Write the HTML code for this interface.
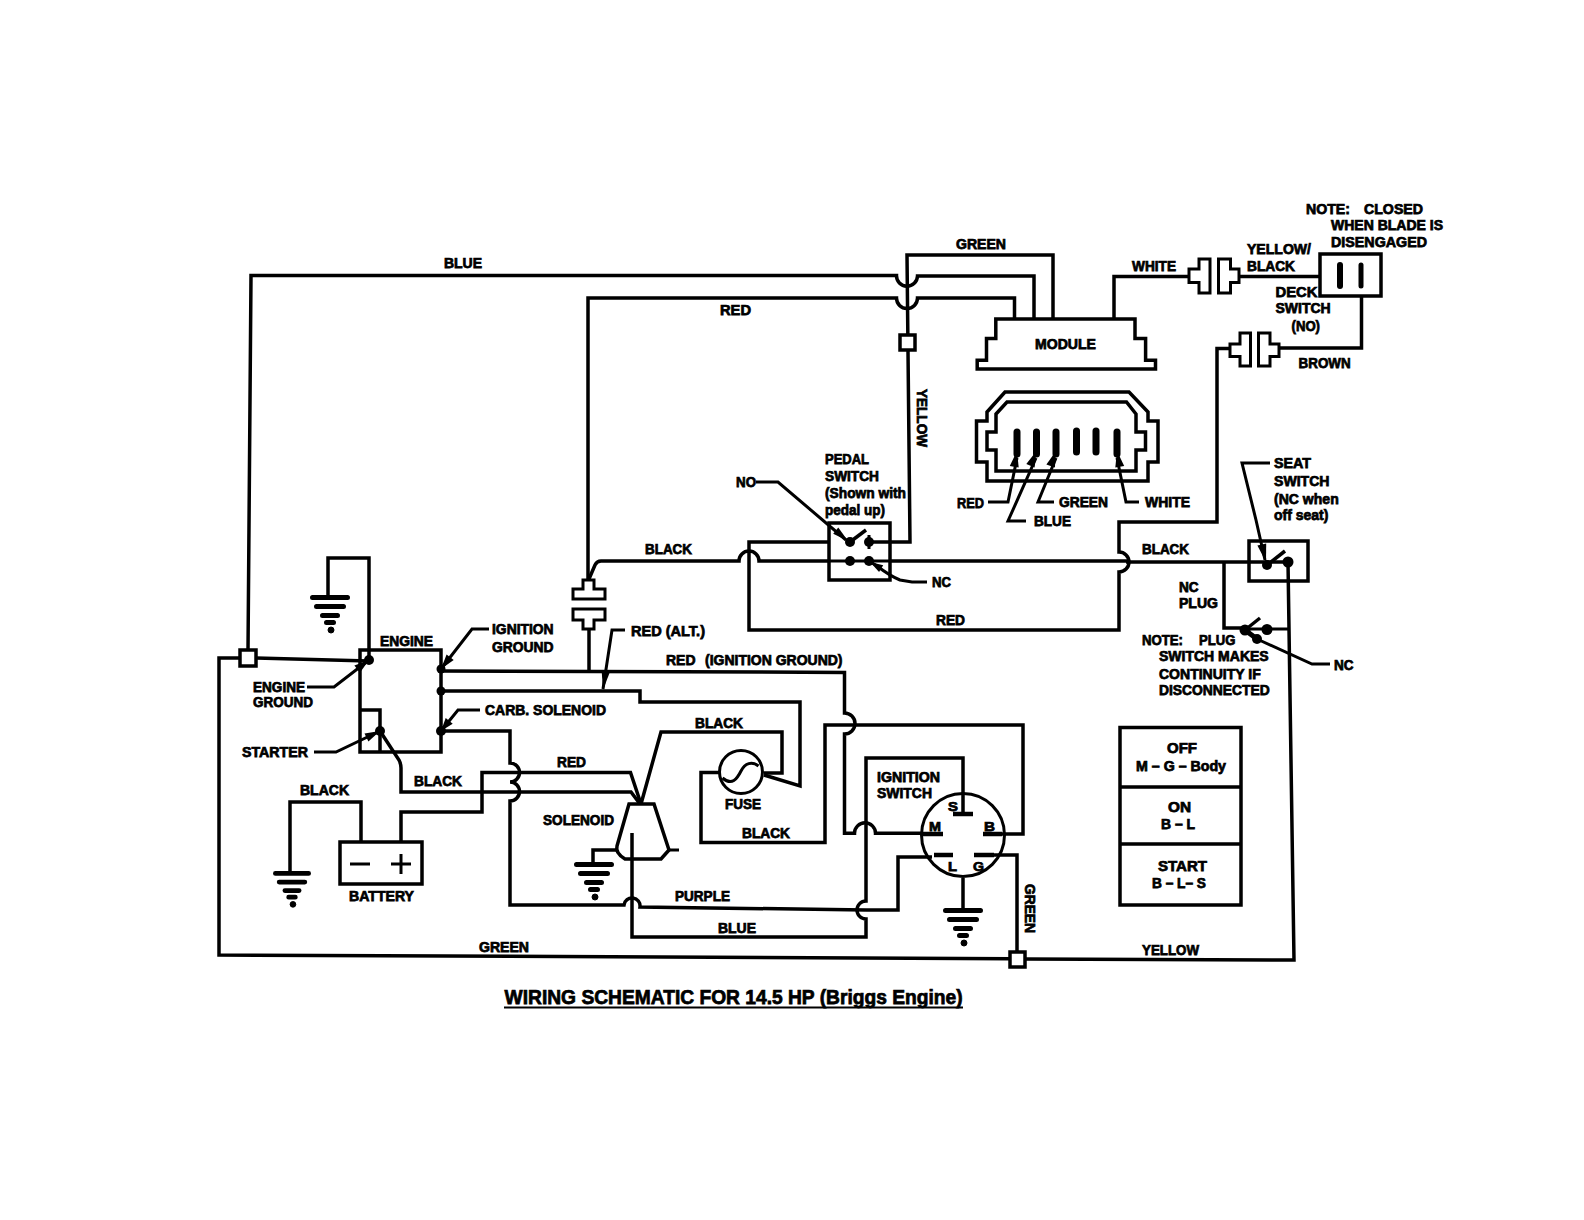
<!DOCTYPE html>
<html><head><meta charset="utf-8">
<style>
html,body{margin:0;padding:0;background:#fff;width:1584px;height:1220px;overflow:hidden}
svg{display:block}
text{font-family:"Liberation Sans",sans-serif;font-weight:bold;fill:#000;stroke:#000;stroke-width:0.75px}
</style></head><body>
<svg width="1584" height="1220" viewBox="0 0 1584 1220">
<defs>
<g id="gnd">
<path d="M-17.5,0.5H17.5M-13.5,9.5H13.5M-7.5,18.5H7.5M-3.5,25.5H3.5" stroke="#000" stroke-width="5" stroke-linecap="round" fill="none"/>
<circle cx="1" cy="33" r="3" fill="#000"/>
</g>
</defs>
<rect width="1584" height="1220" fill="#fff"/>
<g stroke="#000" fill="none" stroke-linejoin="miter">
<path d="M248,651L251,275.5H896.5A10.5,10.5 0 0 0 917.5,276H1034V319" stroke-width="3.5" />
<path d="M890,542H910L907,255H1053V319" stroke-width="3.5" />
<path d="M588,580V298H896.5A10.5,10.5 0 0 0 917.5,298H1014.5V319" stroke-width="3.5" />
<rect x="900" y="335" width="15" height="15" stroke-width="3.5" fill="#fff"/>
<path d="M995.8,319H1135V338.4H1145.6V360.3H1155.5V369H977.2V360.3H986.5V338.4H995.8Z" stroke-width="3.5" />
<path d="M1005,392H1129L1148,412V421H1158V462H1148V481H987V462H976.5V421H987V412Z" stroke-width="3.5" />
<path d="M1007,402H1126.5L1136,414V432H1145.5V450H1136V471H996V450H987V432H996V414Z" stroke-width="3.5" />
<path d="M1076.5,431V452" stroke-width="7" stroke-linecap="round"/>
<path d="M1096,431V452" stroke-width="7" stroke-linecap="round"/>
<path d="M1017,432V454" stroke-width="7" stroke-linecap="round"/>
<path d="M1036.5,432V454" stroke-width="7" stroke-linecap="round"/>
<path d="M1056,432V454" stroke-width="7" stroke-linecap="round"/>
<path d="M1117,432V454" stroke-width="7" stroke-linecap="round"/>
<path d="M1017,458L1008,502H988" stroke-width="3" />
<path d="M1036,458L1008,521H1026" stroke-width="3" />
<path d="M1056,458L1038,502H1054" stroke-width="3" />
<path d="M1117,458L1126,502H1139" stroke-width="3" />
<path d="M1017.0,451.0L1009.8,466.0L1018.7,467.5Z" fill="#000" stroke="none"/>
<path d="M1036.5,451.0L1026.3,464.1L1034.6,467.5Z" fill="#000" stroke="none"/>
<path d="M1056.0,451.0L1046.4,464.6L1054.9,467.6Z" fill="#000" stroke="none"/>
<path d="M1117.0,451.0L1115.3,467.5L1124.2,466.0Z" fill="#000" stroke="none"/>
<path d="M1114,318V276.5H1189" stroke-width="3.5" />
<path d="M1199,259H1210V293H1199V282.5H1189V269H1199Z" stroke-width="3" />
<path d="M1230.5,259H1218.5V293H1230.5V282.5H1239V269H1230.5Z" stroke-width="3" />
<path d="M1239,276.5H1320" stroke-width="3.5" />
<rect x="1320" y="254" width="61" height="42" stroke-width="3.5" fill="none"/>
<path d="M1340,265V286" stroke-width="6" stroke-linecap="round"/>
<path d="M1361,265V286" stroke-width="5" stroke-linecap="round"/>
<path d="M1361.5,296V348H1279" stroke-width="3.5" />
<path d="M1240,333H1250.5V366H1240V356.5H1230V344H1240Z" stroke-width="3" />
<path d="M1270,333H1258.5V366H1270V356.5H1279V344H1270Z" stroke-width="3" />
<path d="M1230,348.5H1217V522H1119V552A10,10 0 0 1 1119,572V630H749V542H829" stroke-width="3.5" />
<path d="M589,579L595,565Q597,561 601,561H739A10,10 0 0 1 759,561H829M890,561H1127" stroke-width="3.5" />
<path d="M829,561H890" stroke-width="3" />
<path d="M1126,562H1249" stroke-width="3.5" />
<rect x="829" y="523" width="61" height="57" stroke-width="3.5" fill="none"/>
<path d="M869,542H890" stroke-width="3.5" />
<circle cx="850" cy="542" r="5" fill="#000" stroke="none"/>
<circle cx="869" cy="542" r="5" fill="#000" stroke="none"/>
<circle cx="850" cy="561" r="5" fill="#000" stroke="none"/>
<circle cx="869" cy="561" r="5" fill="#000" stroke="none"/>
<path d="M869,535V549" stroke-width="3" />
<path d="M850,542L866,530" stroke-width="3.5" />
<path d="M756,482H778L846,540" stroke-width="3" />
<path d="M848.0,541.0L838.3,527.6L833.2,533.7Z" fill="#000" stroke="none"/>
<path d="M869,561L877,566Q890,576 900,580L912,582H927" stroke-width="3" />
<path d="M870.0,562.0L879.1,572.1L883.2,565.3Z" fill="#000" stroke="none"/>
<rect x="1249" y="541" width="59" height="40" stroke-width="3.5" fill="none"/>
<path d="M1249,562H1288" stroke-width="3.5" />
<circle cx="1267" cy="565" r="5" fill="#000" stroke="none"/>
<circle cx="1288" cy="562" r="5.5" fill="#000" stroke="none"/>
<path d="M1267,565L1285,551" stroke-width="3.5" />
<path d="M1265,560L1256,520L1242,463H1270" stroke-width="3" />
<path d="M1266.0,562.0L1266.2,543.4L1257.4,545.6Z" fill="#000" stroke="none"/>
<path d="M1288,562L1294,960L1025,959" stroke-width="3.5" />
<path d="M1224,562V628H1245" stroke-width="3.5" />
<path d="M1245,629H1290" stroke-width="3" />
<circle cx="1245" cy="630" r="5.5" fill="#000" stroke="none"/>
<circle cx="1267" cy="629.5" r="5.5" fill="#000" stroke="none"/>
<circle cx="1257" cy="639" r="5" fill="#000" stroke="none"/>
<path d="M1245,630L1260,618" stroke-width="3.5" />
<path d="M1257,639L1312,664H1330" stroke-width="3" />
<path d="M1245,630L1257,639" stroke-width="5" />
<path d="M1010,958.7L219,955V658H240" stroke-width="3.5" />
<path d="M256,658L369,661" stroke-width="3.5" />
<rect x="240" y="650" width="16" height="16" stroke-width="3.5" fill="#fff"/>
<rect x="1010" y="952" width="15" height="15" stroke-width="3.5" fill="#fff"/>
<path d="M328,597V558H369V660" stroke-width="3.5" />
<use href="#gnd" transform="translate(330,597) scale(1.0)"/>
<rect x="360" y="650" width="81" height="102" stroke-width="3.5" fill="none"/>
<path d="M360,710H380V752" stroke-width="3.5" />
<circle cx="369" cy="660" r="5" fill="#000" stroke="none"/>
<circle cx="380" cy="731" r="5" fill="#000" stroke="none"/>
<circle cx="441" cy="669" r="4.5" fill="#000" stroke="none"/>
<circle cx="441" cy="691" r="4.5" fill="#000" stroke="none"/>
<circle cx="441" cy="731" r="5" fill="#000" stroke="none"/>
<path d="M369,660L334,687H307" stroke-width="3" />
<path d="M369.0,660.0L354.4,665.6L359.9,672.7Z" fill="#000" stroke="none"/>
<path d="M380,731L336,752H314" stroke-width="3" />
<path d="M380.0,731.0L364.5,733.4L368.4,741.5Z" fill="#000" stroke="none"/>
<path d="M441,669L472,629H489" stroke-width="3" />
<path d="M441.0,669.0L453.7,659.9L446.6,654.4Z" fill="#000" stroke="none"/>
<path d="M441,731L458,710H480" stroke-width="3" />
<path d="M441.0,731.0L452.7,723.7L445.7,718.1Z" fill="#000" stroke="none"/>
<path d="M441,671L844.5,672.4V713A10.5,10.5 0 0 1 844.5,734V833.3H854.5A10.5,10.5 0 0 1 875.5,833.3H923" stroke-width="3.5" />
<path d="M441,691H640V702H800V786L764,775" stroke-width="3.5" />
<path d="M603,689L612,630H625" stroke-width="3" />
<path d="M603.0,690.0L609.6,672.8L601.7,671.6Z" fill="#000" stroke="none"/>
<path d="M589,629V671" stroke-width="3.5" />
<path d="M583,580H594V589H605V599H573V589H583Z" stroke-width="3" />
<path d="M573,609H605V620H594V629H583V620H573Z" stroke-width="3" />
<path d="M441,731H510V763A9.5,9.5 0 0 1 510,782A9.5,9.5 0 0 1 510,801V905H624A8,8 0 0 1 640,907L866,910" stroke-width="3.5" />
<path d="M719,772.5H701V842.5H825V725H1023V834H1001" stroke-width="3.5" />
<circle cx="741" cy="772" r="21.5" stroke-width="3" fill="none"/>
<path d="M722.5,778C732,786 737,779 741,771C745,763 752,761 758.5,766" stroke-width="3" />
<path d="M764,773H782V732H661L641,804" stroke-width="3.5" />
<path d="M401,842V812H482V772.5H630.5L641,804" stroke-width="3.5" />
<path d="M380,731L399,760Q401,764 401,768V792H631L640,804" stroke-width="3.5" />
<path d="M629,804H654L669,850L661,859H625Q615,853 617,846L629,804Z" stroke-width="3.5" />
<path d="M669,850H679" stroke-width="3" />
<path d="M617,850H593V864" stroke-width="3.5" />
<use href="#gnd" transform="translate(594,864) scale(1)"/>
<path d="M632,833V937H866V919A9,9 0 0 1 866,901V758H963V814" stroke-width="3.5" />
<path d="M866,910H898V857H932" stroke-width="3.5" />
<circle cx="963" cy="835" r="41.5" stroke-width="3" fill="none"/>
<path d="M953,814H973" stroke-width="4.5" />
<path d="M923,834H943" stroke-width="4.5" />
<path d="M983,834H1002" stroke-width="4.5" />
<path d="M934,855H953" stroke-width="4.5" />
<path d="M974,855H994" stroke-width="4.5" />
<path d="M994,855H1017V952" stroke-width="3.5" />
<path d="M963,878V910" stroke-width="3.5" />
<use href="#gnd" transform="translate(963,910) scale(1)"/>
<path d="M361,842V802H290V873" stroke-width="3.5" />
<use href="#gnd" transform="translate(292,873) scale(0.95)"/>
<rect x="340" y="842" width="82" height="42" stroke-width="3.5" fill="none"/>
<path d="M350,864H370M391,864H411M401,854V874" stroke-width="3" />
<rect x="1120" y="727.5" width="121" height="177.5" stroke-width="3.5" fill="none"/>
<path d="M1120,787H1241M1120,844H1241" stroke-width="3.5" />
<path d="M504,1007.5H963" stroke-width="2.2" />
</g>
<g>
<text x="444" y="267.6" font-size="14.5" textLength="38.0" lengthAdjust="spacingAndGlyphs">BLUE</text>
<text x="720" y="315.0" font-size="14.5" textLength="31.0" lengthAdjust="spacingAndGlyphs">RED</text>
<text x="956" y="248.5" font-size="14.5" textLength="50.0" lengthAdjust="spacingAndGlyphs">GREEN</text>
<text x="1035" y="349.0" font-size="14.5" textLength="61.0" lengthAdjust="spacingAndGlyphs">MODULE</text>
<text x="1132" y="271.0" font-size="14.5" textLength="44.0" lengthAdjust="spacingAndGlyphs">WHITE</text>
<text x="1247" y="254.0" font-size="14.5" textLength="64.0" lengthAdjust="spacingAndGlyphs">YELLOW/</text>
<text x="1247" y="270.5" font-size="14.5" textLength="48.0" lengthAdjust="spacingAndGlyphs">BLACK</text>
<text x="1306" y="213.5" font-size="14.5" textLength="44.0" lengthAdjust="spacingAndGlyphs">NOTE:</text>
<text x="1364" y="213.5" font-size="14.5" textLength="59.0" lengthAdjust="spacingAndGlyphs">CLOSED</text>
<text x="1331" y="230.3" font-size="14.5" textLength="112.0" lengthAdjust="spacingAndGlyphs">WHEN BLADE IS</text>
<text x="1331" y="247.4" font-size="14.5" textLength="96.0" lengthAdjust="spacingAndGlyphs">DISENGAGED</text>
<text x="1275.5" y="297.0" font-size="14.5" textLength="42.0" lengthAdjust="spacingAndGlyphs">DECK</text>
<text x="1275.5" y="313.2" font-size="14.5" textLength="55.2" lengthAdjust="spacingAndGlyphs">SWITCH</text>
<text x="1291.5" y="331.0" font-size="14.5" textLength="28.5" lengthAdjust="spacingAndGlyphs">(NO)</text>
<text x="1298.6" y="367.8" font-size="14.5" textLength="52.1" lengthAdjust="spacingAndGlyphs">BROWN</text>
<text transform="translate(917.0,389) rotate(90)" x="0" y="0" font-size="14.5" textLength="58" lengthAdjust="spacingAndGlyphs">YELLOW</text>
<text x="825" y="463.5" font-size="14.5" textLength="44.0" lengthAdjust="spacingAndGlyphs">PEDAL</text>
<text x="825" y="480.5" font-size="14.5" textLength="54.0" lengthAdjust="spacingAndGlyphs">SWITCH</text>
<text x="825" y="498.0" font-size="14.5" textLength="81.0" lengthAdjust="spacingAndGlyphs">(Shown with</text>
<text x="825" y="514.5" font-size="14.5" textLength="60.0" lengthAdjust="spacingAndGlyphs">pedal up)</text>
<text x="736" y="487.0" font-size="14.5" textLength="20.0" lengthAdjust="spacingAndGlyphs">NO</text>
<text x="932" y="587.0" font-size="14.5" textLength="19.0" lengthAdjust="spacingAndGlyphs">NC</text>
<text x="957" y="508.0" font-size="14.5" textLength="27.0" lengthAdjust="spacingAndGlyphs">RED</text>
<text x="1034" y="526.0" font-size="14.5" textLength="37.0" lengthAdjust="spacingAndGlyphs">BLUE</text>
<text x="1059" y="507.0" font-size="14.5" textLength="49.0" lengthAdjust="spacingAndGlyphs">GREEN</text>
<text x="1145" y="507.0" font-size="14.5" textLength="45.0" lengthAdjust="spacingAndGlyphs">WHITE</text>
<text x="1274" y="468.0" font-size="14.5" textLength="37.0" lengthAdjust="spacingAndGlyphs">SEAT</text>
<text x="1274" y="486.0" font-size="14.5" textLength="55.5" lengthAdjust="spacingAndGlyphs">SWITCH</text>
<text x="1274" y="503.5" font-size="14.5" textLength="64.7" lengthAdjust="spacingAndGlyphs">(NC when</text>
<text x="1274" y="520.0" font-size="14.5" textLength="54.4" lengthAdjust="spacingAndGlyphs">off seat)</text>
<text x="645" y="554.0" font-size="14.5" textLength="47.0" lengthAdjust="spacingAndGlyphs">BLACK</text>
<text x="1142" y="554.0" font-size="14.5" textLength="47.0" lengthAdjust="spacingAndGlyphs">BLACK</text>
<text x="936" y="625.0" font-size="14.5" textLength="29.0" lengthAdjust="spacingAndGlyphs">RED</text>
<text x="1179" y="592.0" font-size="14.5" textLength="19.7" lengthAdjust="spacingAndGlyphs">NC</text>
<text x="1179" y="608.0" font-size="14.5" textLength="39.0" lengthAdjust="spacingAndGlyphs">PLUG</text>
<text x="1142" y="645.0" font-size="14.5" textLength="41.0" lengthAdjust="spacingAndGlyphs">NOTE:</text>
<text x="1199" y="645.0" font-size="14.5" textLength="36.4" lengthAdjust="spacingAndGlyphs">PLUG</text>
<text x="1159" y="661.0" font-size="14.5" textLength="109.7" lengthAdjust="spacingAndGlyphs">SWITCH MAKES</text>
<text x="1159" y="679.0" font-size="14.5" textLength="101.7" lengthAdjust="spacingAndGlyphs">CONTINUITY IF</text>
<text x="1159" y="695.0" font-size="14.5" textLength="110.8" lengthAdjust="spacingAndGlyphs">DISCONNECTED</text>
<text x="1334" y="670.0" font-size="14.5" textLength="19.6" lengthAdjust="spacingAndGlyphs">NC</text>
<text x="380" y="646.0" font-size="14.5" textLength="53.0" lengthAdjust="spacingAndGlyphs">ENGINE</text>
<text x="253" y="691.5" font-size="14.5" textLength="52.0" lengthAdjust="spacingAndGlyphs">ENGINE</text>
<text x="253" y="707.0" font-size="14.5" textLength="60.0" lengthAdjust="spacingAndGlyphs">GROUND</text>
<text x="492" y="634.0" font-size="14.5" textLength="61.6" lengthAdjust="spacingAndGlyphs">IGNITION</text>
<text x="492" y="652.0" font-size="14.5" textLength="61.6" lengthAdjust="spacingAndGlyphs">GROUND</text>
<text x="485" y="715.0" font-size="14.5" textLength="121.0" lengthAdjust="spacingAndGlyphs">CARB. SOLENOID</text>
<text x="631" y="636.0" font-size="14.5" textLength="74.0" lengthAdjust="spacingAndGlyphs">RED (ALT.)</text>
<text x="666" y="665.0" font-size="14.5" textLength="29.5" lengthAdjust="spacingAndGlyphs">RED</text>
<text x="705" y="665.0" font-size="14.5" textLength="137.5" lengthAdjust="spacingAndGlyphs">(IGNITION GROUND)</text>
<text x="242" y="757.0" font-size="14.5" textLength="66.0" lengthAdjust="spacingAndGlyphs">STARTER</text>
<text x="414" y="786.0" font-size="14.5" textLength="48.0" lengthAdjust="spacingAndGlyphs">BLACK</text>
<text x="557" y="767.0" font-size="14.5" textLength="29.0" lengthAdjust="spacingAndGlyphs">RED</text>
<text x="695" y="728.0" font-size="14.5" textLength="48.0" lengthAdjust="spacingAndGlyphs">BLACK</text>
<text x="725" y="809.0" font-size="14.5" textLength="36.0" lengthAdjust="spacingAndGlyphs">FUSE</text>
<text x="742" y="838.0" font-size="14.5" textLength="48.0" lengthAdjust="spacingAndGlyphs">BLACK</text>
<text x="543" y="825.0" font-size="14.5" textLength="71.0" lengthAdjust="spacingAndGlyphs">SOLENOID</text>
<text x="877" y="782.0" font-size="14.5" textLength="63.0" lengthAdjust="spacingAndGlyphs">IGNITION</text>
<text x="877" y="798.0" font-size="14.5" textLength="55.0" lengthAdjust="spacingAndGlyphs">SWITCH</text>
<text x="948" y="810.5" font-size="13" textLength="10.0" lengthAdjust="spacingAndGlyphs">S</text>
<text x="929" y="830.5" font-size="13" textLength="12.0" lengthAdjust="spacingAndGlyphs">M</text>
<text x="984" y="830.5" font-size="13" textLength="11.0" lengthAdjust="spacingAndGlyphs">B</text>
<text x="948" y="870.5" font-size="13" textLength="9.0" lengthAdjust="spacingAndGlyphs">L</text>
<text x="973" y="870.5" font-size="13" textLength="11.0" lengthAdjust="spacingAndGlyphs">G</text>
<text transform="translate(1025.0,884) rotate(90)" x="0" y="0" font-size="14.5" textLength="49" lengthAdjust="spacingAndGlyphs">GREEN</text>
<text x="675" y="901.0" font-size="14.5" textLength="55.0" lengthAdjust="spacingAndGlyphs">PURPLE</text>
<text x="718" y="933.0" font-size="14.5" textLength="38.0" lengthAdjust="spacingAndGlyphs">BLUE</text>
<text x="479" y="952.0" font-size="14.5" textLength="50.0" lengthAdjust="spacingAndGlyphs">GREEN</text>
<text x="1142" y="954.6" font-size="14.5" textLength="57.0" lengthAdjust="spacingAndGlyphs">YELLOW</text>
<text x="300" y="795.0" font-size="14.5" textLength="49.0" lengthAdjust="spacingAndGlyphs">BLACK</text>
<text x="349" y="901.0" font-size="14.5" textLength="65.0" lengthAdjust="spacingAndGlyphs">BATTERY</text>
<text x="1167" y="753.0" font-size="14.5" textLength="30.0" lengthAdjust="spacingAndGlyphs">OFF</text>
<text x="1136" y="771.0" font-size="14.5" textLength="90.0" lengthAdjust="spacingAndGlyphs">M – G – Body</text>
<text x="1168" y="812.0" font-size="14.5" textLength="23.0" lengthAdjust="spacingAndGlyphs">ON</text>
<text x="1161" y="829.0" font-size="14.5" textLength="34.0" lengthAdjust="spacingAndGlyphs">B – L</text>
<text x="1158" y="871.0" font-size="14.5" textLength="49.0" lengthAdjust="spacingAndGlyphs">START</text>
<text x="1152" y="888.0" font-size="14.5" textLength="54.0" lengthAdjust="spacingAndGlyphs">B – L– S</text>
<text x="504.6" y="1003.9" font-size="20" textLength="458.0" lengthAdjust="spacingAndGlyphs">WIRING SCHEMATIC FOR 14.5 HP (Briggs Engine)</text>
</g>
</svg>
</body></html>
